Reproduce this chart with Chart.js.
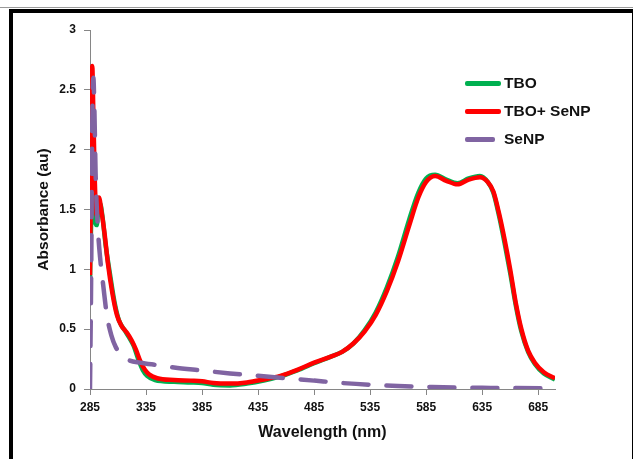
<!DOCTYPE html>
<html>
<head>
<meta charset="utf-8">
<script src="https://cdn.jsdelivr.net/npm/chart.js@4.4.1/dist/chart.umd.min.js"></script>
<style>
  html, body { margin: 0; padding: 0; background: #fff; overflow: hidden; }
  #wrap { position: relative; width: 633px; height: 459px; }
  #chart { position: absolute; left: 0; top: 0; }
  .topline { position: absolute; left: 0; top: 7px; width: 633px; height: 1px; background: #9a9a9a; }
  .frame { position: absolute; left: 9px; top: 9px; width: 624px; height: 470px; box-sizing: border-box;
           border-left: 4px solid #000; border-top: 4px solid #000; border-right: 1px solid #000; pointer-events: none; }
  .legend { position: absolute; left: 465px; top: 72px; font: bold 15.5px "Liberation Sans", Arial, sans-serif; color: #111; }
  .legend div { position: relative; height: 28px; line-height: 22px; }
  .legend span.swatch { position: absolute; left: 0; top: 9px; width: 36px; height: 4.5px; border-radius: 2px; }
  .legend span.txt { position: absolute; left: 39px; top: 0; white-space: nowrap; }
</style>
</head>
<body>
<div id="wrap">
  <div class="topline"></div>
  <div class="frame"></div>
  <canvas id="chart" width="633" height="459"></canvas>
  <div class="legend">
    <div><span class="swatch" style="background:#00b050"></span><span class="txt">TBO</span></div>
    <div><span class="swatch" style="background:#ff0000"></span><span class="txt">TBO+ SeNP</span></div>
    <div><span class="swatch" style="background:#8064a2;width:30px"></span><span class="txt">SeNP</span></div>
  </div>
</div>
<script>
// wavelength (nm) / absorbance (au)
const tboX = [285, 286, 288, 289, 290, 291, 292, 294, 296, 299, 303, 307, 311, 316, 320, 324, 328, 332, 336, 343, 360, 375, 385, 395, 410, 425, 440, 455, 470, 485, 500, 510, 520, 530, 540, 550, 560, 570, 578, 585, 593, 603, 613, 623, 633, 640, 645, 650, 655, 660, 665, 670, 676, 682, 690, 700];
const tboY = [0.9, 1.4, 1.8, 1.6, 1.38, 1.37, 1.45, 1.55, 1.45, 1.2, 0.95, 0.72, 0.57, 0.49, 0.43, 0.36, 0.25, 0.16, 0.11, 0.075, 0.06, 0.055, 0.05, 0.035, 0.03, 0.045, 0.07, 0.105, 0.155, 0.215, 0.27, 0.31, 0.38, 0.49, 0.64, 0.85, 1.11, 1.42, 1.64, 1.76, 1.79, 1.75, 1.72, 1.76, 1.78, 1.73, 1.64, 1.45, 1.22, 0.97, 0.7, 0.48, 0.31, 0.21, 0.13, 0.08];

const mixX = [285, 286, 287, 288, 289, 290, 291, 292, 293, 295, 298, 301, 305, 309, 313, 318, 322, 326, 330, 334, 338, 345, 360, 375, 385, 395, 410, 425, 440, 455, 470, 485, 500, 510, 520, 530, 540, 550, 560, 570, 578, 585, 593, 603, 613, 623, 633, 640, 645, 650, 655, 660, 665, 670, 676, 682, 690, 700];
const mixY = [0.95, 1.9, 2.7, 2.3, 1.85, 1.55, 1.45, 1.5, 1.6, 1.5, 1.3, 1.05, 0.8, 0.62, 0.53, 0.47, 0.41, 0.33, 0.23, 0.16, 0.12, 0.09, 0.075, 0.07, 0.065, 0.05, 0.045, 0.055, 0.08, 0.11, 0.16, 0.22, 0.27, 0.31, 0.38, 0.48, 0.62, 0.82, 1.07, 1.37, 1.6, 1.73, 1.78, 1.74, 1.71, 1.75, 1.77, 1.73, 1.65, 1.47, 1.25, 1.0, 0.72, 0.5, 0.32, 0.22, 0.14, 0.09];

const senpX = [285, 286, 287, 288, 289, 290, 292, 294, 297, 300, 304, 308, 313, 320, 330, 345, 360, 385, 410, 435, 460, 485, 510, 535, 560, 585, 610, 635, 660, 700];
const senpY = [0, 0.9, 2.2, 2.6, 2.3, 1.8, 1.35, 1.1, 0.85, 0.62, 0.45, 0.35, 0.29, 0.24, 0.22, 0.2, 0.18, 0.155, 0.13, 0.11, 0.09, 0.07, 0.05, 0.035, 0.025, 0.018, 0.012, 0.01, 0.008, 0.007];

const xTicks = [285, 335, 385, 435, 485, 535, 585, 635, 685];

const toPoints = (xs, ys) => xs.map((x, i) => ({ x, y: ys[i] }));

const axisGray = '#868686';
const tickFont = { family: '"Liberation Sans", Arial, sans-serif', size: 12, weight: 'bold' };
const titleFont = { family: '"Liberation Sans", Arial, sans-serif', size: 16, weight: 'bold' };

new Chart(document.getElementById('chart'), {
  type: 'line',
  data: {
    datasets: [
      {
        label: 'SeNP',
        data: toPoints(senpX, senpY),
        borderColor: '#8064a2',
        borderWidth: 4.5,
        borderDash: [25, 18],
        borderCapStyle: 'round',
        pointRadius: 0,
        cubicInterpolationMode: 'monotone'
      },
      {
        label: 'TBO+ SeNP',
        data: toPoints(mixX, mixY),
        borderColor: '#ff0000',
        borderWidth: 4.5,
        pointRadius: 0,
        cubicInterpolationMode: 'monotone'
      },
      {
        label: 'TBO',
        data: toPoints(tboX, tboY),
        borderColor: '#00b050',
        borderWidth: 4.5,
        pointRadius: 0,
        cubicInterpolationMode: 'monotone'
      }
    ]
  },
  options: {
    responsive: false,
    devicePixelRatio: 1,
    animation: false,
    layout: { padding: { left: 0, right: 78, top: 30, bottom: 0 } },
    plugins: { legend: { display: false }, tooltip: { enabled: false } },
    scales: {
      x: {
        type: 'linear',
        min: 285,
        max: 700,
        afterBuildTicks: scale => { scale.ticks = xTicks.map(v => ({ value: v })); },
        afterFit: scale => { scale.height = 70; },
        border: { color: axisGray, width: 1 },
        grid: { drawOnChartArea: false, color: axisGray, tickLength: 6 },
        ticks: { color: '#111', font: tickFont, padding: 5, maxRotation: 0, callback: v => String(v) },
        title: { display: true, text: 'Wavelength (nm)', color: '#111', font: titleFont, padding: { top: 0, bottom: 17 } }
      },
      y: {
        min: 0,
        max: 3,
        afterFit: scale => { scale.width = 90; },
        border: { color: axisGray, width: 1 },
        grid: { drawOnChartArea: false, color: axisGray, tickLength: 6 },
        ticks: { stepSize: 0.5, color: '#111', font: tickFont, padding: 8, callback: v => String(v) },
        title: { display: true, text: 'Absorbance (au)', color: '#111', font: { ...titleFont, size: 15.5 }, padding: { top: 34, bottom: 0 } }
      }
    }
  }
});
</script>
</body>
</html>
